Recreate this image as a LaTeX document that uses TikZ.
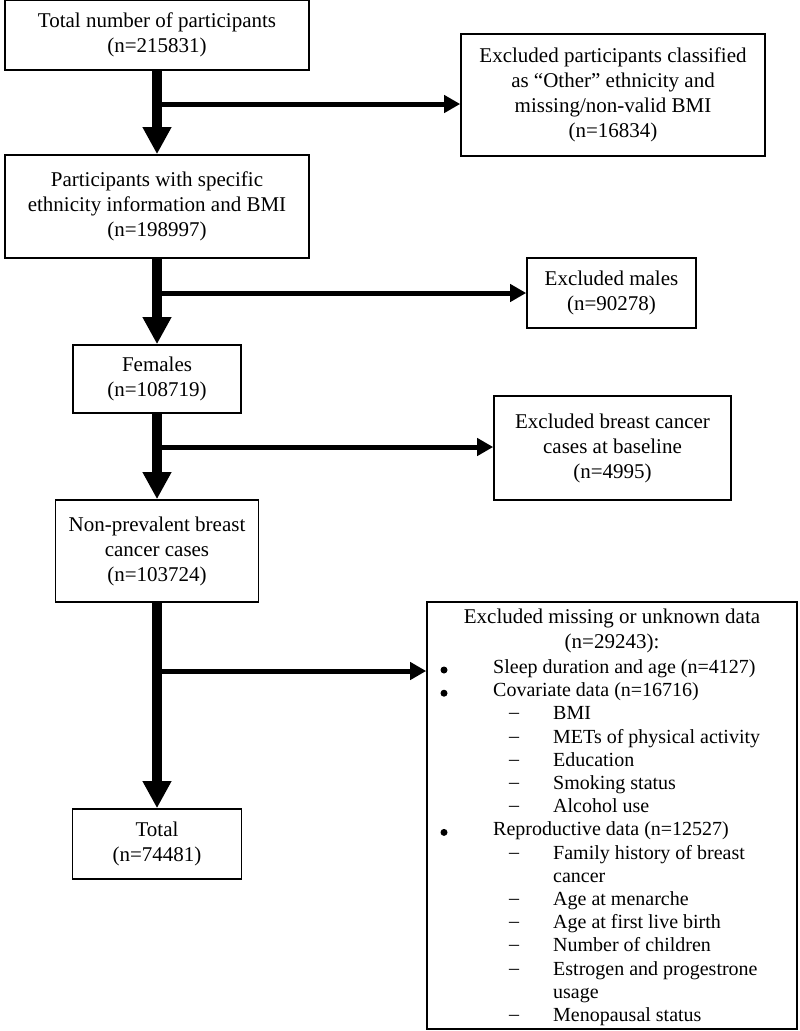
\documentclass[tikz,border=0pt]{standalone}
\usepackage{fontspec}
\setmainfont{Liberation Serif}
\usetikzlibrary{arrows.meta}

\begin{document}
\begin{tikzpicture}[x=1pt,y=-1pt]
\tikzset{
  flowbox/.style={
    draw,
    line width=1.6pt,
    align=center,
    inner sep=0pt,
    font=\fontsize{21}{25}\selectfont,
  },
  mainarrow/.style={
    line width=10pt,
    -{Triangle[width=27pt,length=27pt]},
  },
  sidearrow/.style={
    line width=5pt,
    -{Triangle[width=17pt,length=16pt]},
  },
  listtext/.style={
    anchor=west,
    inner sep=0pt,
    text height=14pt,
    text depth=5pt,
    font=\fontsize{20}{23}\selectfont,
  },
  listmark/.style={
    anchor=center,
    inner sep=0pt,
    font=\fontsize{20}{23}\selectfont,
  },
  listdot/.style={
    circle,
    fill,
    inner sep=0pt,
    minimum size=7pt,
  },
}
\useasboundingbox (0,0) rectangle (800,1031);

% left column
\node[flowbox, minimum width=304pt, minimum height=70pt] (total) at (157,35)
  {Total number of participants\\(n=215831)};
\node[flowbox, minimum width=304pt, minimum height=103pt] (ethnic) at (157,206.5)
  {Participants with specific\\ethnicity information and BMI\\(n=198997)};
\node[flowbox, minimum width=168pt, minimum height=68pt] (females) at (157,379)
  {Females\\(n=108719)};
\node[flowbox, minimum width=203pt, minimum height=102pt] (nonprev) at (157,551)
  {Non-prevalent breast\\cancer cases\\(n=103724)};
\node[flowbox, minimum width=169pt, minimum height=70pt] (final) at (157,844)
  {Total\\(n=74481)};

% right column
\node[flowbox, minimum width=304pt, minimum height=122pt] (other) at (613,95)
  {Excluded participants classified\\as “Other” ethnicity and\\missing/non-valid BMI\\(n=16834)};
\node[flowbox, minimum width=169pt, minimum height=70pt] (males) at (611.5,293)
  {Excluded males\\(n=90278)};
\node[flowbox, minimum width=237pt, minimum height=104pt] (baseline) at (612.5,448)
  {Excluded breast cancer\\cases at baseline\\(n=4995)};
\node[flowbox, minimum width=370pt, minimum height=427pt] (missing) at (612,815.5) {};
\node[flowbox, draw=none] (misshead) at (612,630.5)
  {Excluded missing or unknown data\\(n=29243):};

\foreach[count=\k] \mx/\tx/\ms/\mk/\txt in {
  444/493/listdot/{}/Sleep duration and age (n=4127),
  444/493/listdot/{}/Covariate data (n=16716),
  514/553/listmark/--/BMI,
  514/553/listmark/--/METs of physical activity,
  514/553/listmark/--/Education,
  514/553/listmark/--/Smoking status,
  514/553/listmark/--/Alcohol use,
  444/493/listdot/{}/Reproductive data (n=12527),
  514/553/listmark/--/Family history of breast,
  514/553/listmark/{}/cancer,
  514/553/listmark/--/Age at menarche,
  514/553/listmark/--/Age at first live birth,
  514/553/listmark/--/Number of children,
  514/553/listmark/--/Estrogen and progestrone,
  514/553/listmark/{}/usage,
  514/553/listmark/--/Menopausal status%
} {
  \node[\ms] (mark\k) at (\mx,{670+23.2*(\k-1)}) {\mk};
  \node[listtext] (item\k) at (\tx,{669+23.2*(\k-1)}) {\txt};
}

% junctions on the main line
\coordinate (j1) at (157,104);
\coordinate (j2) at (157,293);
\coordinate (j3) at (157,447);
\coordinate (j4) at (157,671);

\draw[mainarrow] (total) -- (ethnic);
\draw[mainarrow] (ethnic) -- (females);
\draw[mainarrow] (females) -- (nonprev);
\draw[mainarrow] (nonprev) -- (final);

\draw[sidearrow] (j1) -- (j1 -| other.west);
\draw[sidearrow] (j2) -- (j2 -| males.west);
\draw[sidearrow] (j3) -- (j3 -| baseline.west);
\draw[sidearrow] (j4) -- (j4 -| missing.west);
\end{tikzpicture}
\end{document}
